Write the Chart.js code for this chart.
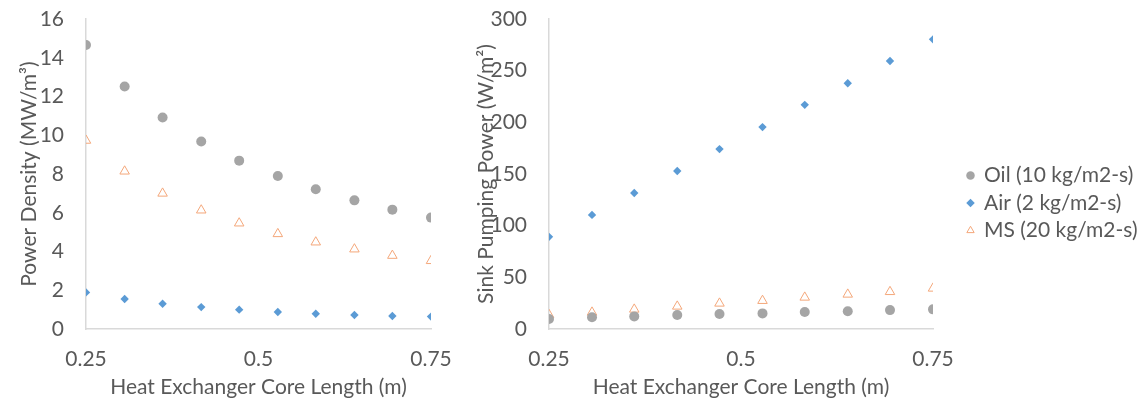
<!DOCTYPE html>
<html>
<head>
<meta charset="utf-8">
<script src="https://cdn.jsdelivr.net/npm/chart.js@4.4.0/dist/chart.umd.min.js"></script>
<style>
  html, body { margin: 0; padding: 0; background: #fff; }
  #wrap { position: relative; width: 1138px; height: 401px; overflow: hidden; }
  #left { position: absolute; left: 0; top: 0; }
  #right { position: absolute; left: 460px; top: 0; }
</style>
</head>
<body>
<div id="wrap">
  <canvas id="left" width="470" height="401"></canvas>
  <canvas id="right" width="678" height="401"></canvas>
</div>
<script>
// core length (m)
const coreLength = [0.25, 0.306, 0.361, 0.417, 0.472, 0.528, 0.583, 0.639, 0.694, 0.75];

// power density (MW/m3)
const oilDensity = [14.66, 12.52, 10.92, 9.68, 8.69, 7.90, 7.21, 6.64, 6.16, 5.75];
const airDensity = [1.89, 1.55, 1.30, 1.13, 1.00, 0.88, 0.79, 0.72, 0.67, 0.64];
const msDensity  = [9.73, 8.14, 7.00, 6.13, 5.46, 4.91, 4.48, 4.12, 3.79, 3.52];

// sink pumping power (W/m2)
const oilPumping = [9.7, 11.3, 12.2, 13.5, 14.5, 15.1, 16.4, 17.1, 18.3, 19.0];
const airPumping = [89.2, 110.4, 131.6, 152.9, 174.1, 195.4, 216.9, 237.8, 259.4, 280.3];
const msPumping  = [13.8, 16.1, 19.0, 21.9, 24.8, 27.4, 30.6, 33.5, 36.0, 39.3];

const seriesNames = ['Oil (10 kg/m2-s)', 'Air (2 kg/m2-s)', 'MS (20 kg/m2-s)'];
const xTicks = [0.25, 0.5, 0.75];

const FONT = 'Lato, Calibri, "Open Sans", sans-serif';
const TEXT = '#595959';
const AXIS = '#d9d9d9';

Chart.defaults.font.family = FONT;
Chart.defaults.font.size = 21;
Chart.defaults.color = TEXT;

function pts(ys) {
  return ys.map(function(y, i) { return { x: coreLength[i], y: y }; });
}

function makeDatasets(oil, air, ms) {
  return [
    { label: seriesNames[0], data: pts(oil), pointStyle: 'circle', pointRadius: 5,
      backgroundColor: '#a5a5a5', borderColor: '#a5a5a5', borderWidth: 0, showLine: false },
    { label: seriesNames[1], data: pts(air), pointStyle: 'rectRot', pointRadius: 4.2,
      backgroundColor: '#5b9bd5', borderColor: '#5b9bd5', borderWidth: 0, showLine: false },
    { label: seriesNames[2], data: pts(ms), pointStyle: 'triangle', pointRadius: 5.5,
      backgroundColor: 'rgba(255,255,255,0)', borderColor: '#f4a77a', borderWidth: 1, showLine: false }
  ];
}

// widen the legend box so the plot area ends where the reference's does,
// and draw the legend items shifted right, next to it
const legendSpot = {
  id: 'legendSpot',
  beforeLayout: function(chart, args, opts) {
    const lg = chart.legend;
    if (!lg || lg._spotWrapped) return;
    const fit = lg.fit;
    lg.fit = function() {
      fit.call(this);
      this.width = opts.width;
    };
    const draw = lg.draw;
    lg.draw = function() {
      this.left += opts.shift;
      this.right += opts.shift;
      draw.apply(this, arguments);
      this.left -= opts.shift;
      this.right -= opts.shift;
    };
    lg._spotWrapped = true;
  }
};

function makeOptions(cfg) {
  return {
    responsive: false,
    animation: false,
    layout: { padding: cfg.padding || 0 },
    plugins: {
      legend: cfg.legend ? {
        display: true,
        position: 'right',
        labels: { usePointStyle: true, boxWidth: 6, boxHeight: 6, padding: 6.5, color: TEXT }
      } : { display: false },
      legendSpot: { width: 205, shift: 28 },
      tooltip: { enabled: false }
    },
    scales: {
      x: {
        type: 'linear',
        min: 0.25, max: 0.75,
        afterBuildTicks: function(axis) { axis.ticks = xTicks.map(function(v) { return { value: v }; }); },
        afterFit: function(axis) { axis.height = 72; },
        grid: { display: false, drawTicks: false },
        border: { display: true, color: AXIS, width: 1.5 },
        ticks: { padding: 18, maxRotation: 0, callback: function(v) { return String(v); } },
        title: { display: true, text: 'Heat Exchanger Core Length (m)', padding: { top: 0, bottom: 1 } }
      },
      y: {
        min: 0, max: cfg.yMax,
        afterFit: function(axis) {
          axis.width = cfg.yWidth;
          axis.paddingTop = 19;
          axis.paddingBottom = 0;
        },
        grid: { display: false, drawTicks: false },
        border: { display: true, color: AXIS, width: 1.5 },
        ticks: { stepSize: cfg.yStep, padding: 22 },
        title: { display: true, text: cfg.yTitle, padding: { top: cfg.titlePad, bottom: 0 } }
      }
    }
  };
}

new Chart(document.getElementById('left'), {
  type: 'scatter',
  data: { datasets: makeDatasets(oilDensity, airDensity, msDensity) },
  options: makeOptions({ yMax: 16, yStep: 2, yWidth: 86, titlePad: 16.5,
    yTitle: 'Power Density (MW/m³)', padding: { top: 5, right: 39, bottom: 0, left: 0 } })
});

new Chart(document.getElementById('right'), {
  type: 'scatter',
  data: { datasets: makeDatasets(oilPumping, airPumping, msPumping) },
  options: makeOptions({ yMax: 300, yStep: 50, yWidth: 89, titlePad: 13.5, legend: true,
    yTitle: 'Sink Pumping Power (W/m²)', padding: { top: 5, right: 0, bottom: 0, left: 0 } }),
  plugins: [legendSpot]
});
</script>
</body>
</html>
